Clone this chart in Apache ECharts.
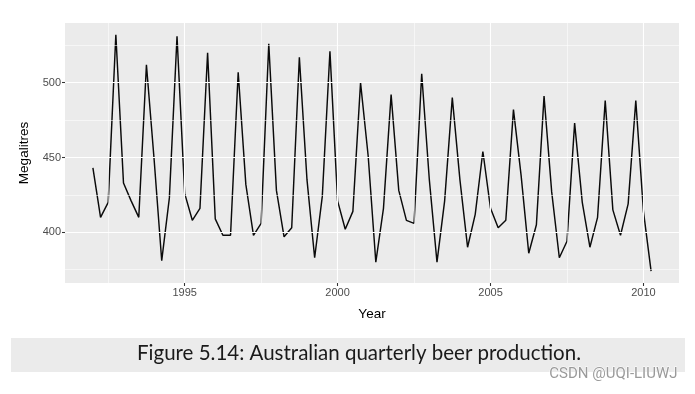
<!DOCTYPE html>
<html>
<head>
<meta charset="utf-8">
<script src="https://cdn.jsdelivr.net/npm/echarts@6/dist/echarts.min.js"></script>
<style>
html,body{margin:0;padding:0;background:#fff;}
#chart{width:695px;height:394px;}
</style>
</head>
<body>
<div id="chart"></div>
<script>
// Australian quarterly beer production, 1992 Q1 onwards (Megalitres)
var startYear = 1992;
var beer = [443, 410, 420, 532, 433, 421, 410, 512, 449, 381, 423, 531, 426, 408, 416, 520,
            409, 398, 398, 507, 432, 398, 406, 526, 428, 397, 403, 517, 435, 383, 424, 521,
            421, 402, 414, 500, 451, 380, 416, 492, 428, 408, 406, 506, 435, 380, 421, 490,
            435, 390, 412, 454, 416, 403, 408, 482, 438, 386, 405, 491, 427, 383, 394, 473,
            420, 390, 410, 488, 415, 398, 419, 488, 414, 374];
var xMajor = [1995, 2000, 2005, 2010];
var xMinor = [1992.5, 1997.5, 2002.5, 2007.5];
var yMajor = [400, 450, 500];
var yMinor = [375, 425, 475, 525];
var xTitle = 'Year';
var yTitle = 'Megalitres';
var caption = 'Figure 5.14: Australian quarterly beer production.';
var watermark = 'CSDN @UQI-LIUWJ';

// time index (quarters expressed as decimal years)
var pts = beer.map(function (v, i) { return [startYear + i / 4, v]; });

// ggplot-like 5% expansion
var xs = pts.map(function (p) { return p[0]; });
var xMin = Math.min.apply(null, xs), xMax = Math.max.apply(null, xs);
var yMinD = Math.min.apply(null, beer), yMaxD = Math.max.apply(null, beer);
var xPad = (xMax - xMin) * 0.05, yPad = (yMaxD - yMinD) * 0.05;

var grid = [];
xMinor.forEach(function (v) { grid.push({ xAxis: v, lineStyle: { width: 0.55 } }); });
yMinor.forEach(function (v) { grid.push({ yAxis: v, lineStyle: { width: 0.55 } }); });
xMajor.forEach(function (v) { grid.push({ xAxis: v, lineStyle: { width: 1.1 } }); });
yMajor.forEach(function (v) { grid.push({ yAxis: v, lineStyle: { width: 1.1 } }); });

var chart = echarts.init(document.getElementById('chart'), null, { renderer: 'canvas' });
var axisFont = { fontFamily: 'Liberation Sans, Arial, sans-serif', fontSize: 11, color: '#4D4D4D' };
function plain(v) { return String(v); }
chart.setOption({
  animation: false,
  grid: { left: 65, top: 23, width: 614, height: 260, show: true, backgroundColor: '#EBEBEB', borderWidth: 0 },
  xAxis: {
    type: 'value', min: xMin - xPad, max: xMax + xPad,
    axisLine: { show: false },
    splitLine: { show: false },
    axisTick: { show: true, length: 3, customValues: xMajor, lineStyle: { color: '#333', width: 1.07 } },
    axisLabel: Object.assign({ customValues: xMajor, margin: 4, formatter: plain }, axisFont),
    name: xTitle, nameLocation: 'middle', nameGap: 24,
    nameTextStyle: { fontFamily: 'Liberation Sans, Arial, sans-serif', fontSize: 13.5, color: '#000' }
  },
  yAxis: {
    type: 'value', min: yMinD - yPad, max: yMaxD + yPad,
    axisLine: { show: false },
    splitLine: { show: false },
    axisTick: { show: true, length: 3, customValues: yMajor, lineStyle: { color: '#333', width: 1.07 } },
    axisLabel: Object.assign({ customValues: yMajor, margin: 4, formatter: plain }, axisFont),
    name: yTitle, nameLocation: 'middle', nameGap: 34, nameRotate: 90,
    nameTextStyle: { fontFamily: 'Liberation Sans, Arial, sans-serif', fontSize: 13.5, color: '#000' }
  },
  series: [
    {
      type: 'line', z: 1, data: [], silent: true,
      markLine: { silent: true, symbol: 'none', animation: false, label: { show: false },
        lineStyle: { color: '#FFFFFF', type: 'solid' }, emphasis: { disabled: true }, data: grid }
    },
    {
      type: 'line', z: 3, data: pts, showSymbol: false, symbol: 'none',
      lineStyle: { color: '#0a0a0a', width: 1.45 }, silent: true
    }
  ],
  graphic: [
    { type: 'rect', left: 11, top: 338, shape: { width: 674, height: 34 }, style: { fill: '#EBEBEB' }, z: 0 },
    { type: 'text', left: 137, top: 343, style: { text: caption, font: '20.5px Lato, "Noto Sans", sans-serif', fill: '#1a1a1a' }, z: 2 },
    { type: 'text', right: 17, top: 366, style: { text: watermark, font: '15px "Liberation Sans Narrow", Roboto, sans-serif', fill: '#9a9a9a', stroke: '#fff', lineWidth: 1 }, z: 3 }
  ]
});
</script>
</body>
</html>
